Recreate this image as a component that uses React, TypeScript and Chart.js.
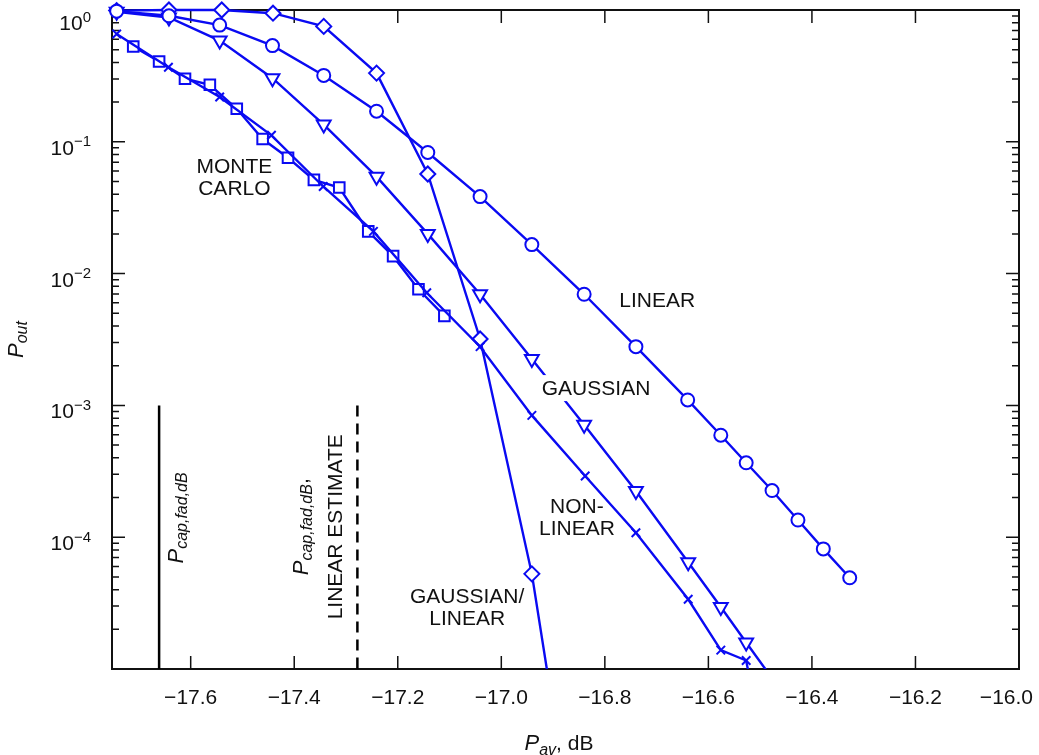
import React, { useEffect, useRef } from 'react';
import { Chart, registerables } from 'chart.js';

Chart.register(...registerables);

// ---------- data ----------
const xTickValues = [-17.6, -17.4, -17.2, -17.0, -16.8, -16.6, -16.4, -16.2, -16.0];
const yLabelExponents = [0, -1, -2, -3, -4];

// LINEAR (circles)
const xLinear = [-17.743, -17.642, -17.544, -17.442, -17.343, -17.241, -17.142, -17.041, -16.941, -16.84, -16.74, -16.64, -16.576, -16.527, -16.477, -16.427, -16.378, -16.327];
const yLinear = [0.98, 0.904, 0.768, 0.537, 0.319, 0.1706, 0.083, 0.0384, 0.0166, 6.97e-3, 2.79e-3, 1.1e-3, 5.94e-4, 3.67e-4, 2.26e-4, 1.35e-4, 8.15e-5, 4.92e-5];

// GAUSSIAN (down triangles)
const xGaussian = [-17.743, -17.642, -17.544, -17.442, -17.343, -17.241, -17.142, -17.041, -16.941, -16.84, -16.74, -16.639, -16.576, -16.527, -16.477];
const yGaussian = [0.97, 0.878, 0.586, 0.304, 0.135, 0.0544, 0.02, 6.97e-3, 2.25e-3, 7.14e-4, 2.24e-4, 6.45e-5, 2.95e-5, 1.59e-5, 8.5e-6];

// NON-LINEAR (crosses)
const xNonLinear = [-17.743, -17.643, -17.544, -17.444, -17.344, -17.247, -17.144, -17.041, -16.941, -16.838, -16.74, -16.639, -16.576, -16.527, -16.477];
const yNonLinear = [0.657, 0.368, 0.219, 0.112, 0.0458, 0.0209, 7.16e-3, 2.79e-3, 8.4e-4, 2.91e-4, 1.08e-4, 3.38e-5, 1.39e-5, 1.16e-5, 1.1e-6];

// GAUSSIAN/LINEAR (diamonds)
const xGaussLin = [-17.743, -17.642, -17.54, -17.441, -17.343, -17.241, -17.142, -17.041, -16.941, -16.84];
const yGaussLin = [0.99, 1.0, 1.0, 0.946, 0.751, 0.332, 0.057, 3.19e-3, 5.27e-5, 1.6e-7];

// MONTE CARLO (squares)
const xMonteCarlo = [-17.711, -17.661, -17.611, -17.563, -17.511, -17.461, -17.412, -17.362, -17.313, -17.257, -17.209, -17.16, -17.11];
const yMonteCarlo = [0.528, 0.407, 0.301, 0.271, 0.178, 0.105, 0.0757, 0.0514, 0.045, 0.0209, 0.01356, 7.6e-3, 4.78e-3];

// vertical markers
const xCapFad = [-17.661, -17.661];
const yCapFad = [1e-3, 1e-5];
const xCapFadLinear = [-17.278, -17.278];
const yCapFadLinear = [1e-3, 1e-5];

// ---------- style ----------
const FONT = '"Liberation Sans", Arial, Helvetica, sans-serif';
const fnt = (size: number, italic = false) => `${italic ? 'italic ' : ''}${size}px ${FONT}`;
const BLUE = '#0a0af2';
const INK = '#111';

type Seg = { t: string; f: string; dy: number };
const main = (t: string, italic = false): Seg => ({ t, f: fnt(italic ? 22 : 21, italic), dy: 0 });
const sub = (t: string): Seg => ({ t, f: fnt(16, true), dy: 4 });

const notes = [
  { lines: ['MONTE', 'CARLO'], x: -17.5156, y: 0.053, knockout: false },
  { lines: ['LINEAR'], x: -16.699, y: 6.15e-3, knockout: false },
  { lines: ['GAUSSIAN'], x: -16.817, y: 1.33e-3, knockout: true },
  { lines: ['NON-', 'LINEAR'], x: -16.854, y: 1.39e-4, knockout: false },
  { lines: ['GAUSSIAN/', 'LINEAR'], x: -17.066, y: 2.9e-5, knockout: false },
];

const rotNotes: { segs: Seg[]; x: number; y: number }[] = [
  { segs: [main('P', true), sub('cap,fad,dB')], x: -17.615, y: 1.4e-4 },
  { segs: [main('P', true), sub('cap,fad,dB'), main(',')], x: -17.3735, y: 1.2e-4 },
  { segs: [main('LINEAR ESTIMATE')], x: -17.3084, y: 1.2e-4 },
];

function richWidth(ctx: CanvasRenderingContext2D, segs: Seg[]) {
  let w = 0;
  for (const s of segs) {
    ctx.font = s.f;
    w += ctx.measureText(s.t).width;
  }
  return w;
}

function drawRich(ctx: CanvasRenderingContext2D, segs: Seg[], x: number, y: number, align: 'center' | 'left' | 'right') {
  const w = richWidth(ctx, segs);
  let cx = align === 'center' ? x - w / 2 : align === 'right' ? x - w : x;
  ctx.textAlign = 'left';
  for (const s of segs) {
    ctx.font = s.f;
    ctx.fillText(s.t, cx, y + s.dy);
    cx += ctx.measureText(s.t).width;
  }
}

const minus = (s: string) => s.replace('-', '\u2212');

const framePlugin = {
  id: 'framePlugin',
  beforeDatasetsDraw(chart: any) {
    const { ctx, chartArea: a, scales } = chart;
    const xs = scales.x;
    const ys = scales.y;
    ctx.save();
    ctx.strokeStyle = INK;
    ctx.lineWidth = 1.5;
    ctx.beginPath();
    for (const v of xTickValues) {
      const px = xs.getPixelForValue(v);
      ctx.moveTo(px, a.bottom);
      ctx.lineTo(px, a.bottom - 13);
      ctx.moveTo(px, a.top);
      ctx.lineTo(px, a.top + 13);
    }
    const eMin = Math.round(Math.log10(ys.min));
    const eMax = Math.round(Math.log10(ys.max));
    for (let e = eMin; e < eMax; e++) {
      for (let m = 1; m < 10; m++) {
        const py = ys.getPixelForValue(m * Math.pow(10, e));
        const len = m === 1 ? 13 : 7;
        ctx.moveTo(a.left, py);
        ctx.lineTo(a.left + len, py);
        ctx.moveTo(a.right, py);
        ctx.lineTo(a.right - len, py);
      }
    }
    ctx.stroke();
    ctx.lineWidth = 2;
    ctx.strokeRect(a.left, a.top, a.right - a.left, a.bottom - a.top);
    ctx.restore();
  },
  afterDatasetsDraw(chart: any) {
    const { ctx, chartArea: a, scales, width } = chart;
    const xs = scales.x;
    const ys = scales.y;
    ctx.save();
    ctx.fillStyle = INK;
    ctx.textBaseline = 'alphabetic';

    // x tick labels
    ctx.font = fnt(21);
    for (const v of xTickValues) {
      const label = minus(v.toFixed(1));
      const w = ctx.measureText(label).width;
      let cx = xs.getPixelForValue(v);
      cx = Math.min(cx, width - 6 - w / 2);
      ctx.textAlign = 'center';
      ctx.fillText(label, cx, a.bottom + 35);
    }

    // y tick labels (10^n)
    for (const e of yLabelExponents) {
      const py = ys.getPixelForValue(Math.pow(10, e));
      const base = Math.max(py + 13, a.top + 20);
      const expStr = e === 0 ? '0' : '\u2212' + Math.abs(e);
      drawRich(ctx, [
        { t: '10', f: fnt(21), dy: 0 },
        { t: expStr, f: fnt(15), dy: -8.4 },
      ], a.left - 21, base, 'right');
    }

    // axis titles
    drawRich(ctx, [main('P', true), { t: 'av', f: fnt(16, true), dy: 5 }, main(', dB')],
      (a.left + a.right) / 2 - 6.5, a.bottom + 81, 'center');
    ctx.save();
    ctx.translate(a.left - 89, (a.top + a.bottom) / 2);
    ctx.rotate(-Math.PI / 2);
    drawRich(ctx, [main('P', true), sub('out')], 0, 0, 'center');
    ctx.restore();

    // curve notes
    ctx.textBaseline = 'middle';
    for (const n of notes) {
      const cx = xs.getPixelForValue(n.x);
      const cy = ys.getPixelForValue(n.y);
      const lh = 22;
      ctx.font = fnt(21);
      const top = cy - ((n.lines.length - 1) * lh) / 2;
      if (n.knockout) {
        const w = Math.max(...n.lines.map((l) => ctx.measureText(l).width));
        ctx.fillStyle = '#fff';
        ctx.fillRect(cx - w / 2 - 3, top - 13 - 1, w + 6, n.lines.length * lh + 4);
        ctx.fillStyle = INK;
      }
      n.lines.forEach((l, i) => {
        ctx.textAlign = 'center';
        ctx.fillText(l, cx, top + i * lh);
      });
    }

    // rotated notes
    ctx.textBaseline = 'alphabetic';
    for (const r of rotNotes) {
      ctx.save();
      ctx.translate(xs.getPixelForValue(r.x), ys.getPixelForValue(r.y));
      ctx.rotate(-Math.PI / 2);
      drawRich(ctx, r.segs, 0, 0, 'center');
      ctx.restore();
    }
    ctx.restore();
  },
};

const pts = (xs: number[], ys: number[]) => xs.map((x, i) => ({ x, y: ys[i] }));
const CLIP = { left: 10, top: 10, right: 0, bottom: 0 };

function curve(label: string, xs: number[], ys: number[], style: string, radius: number, rotation = 0) {
  return {
    label,
    data: pts(xs, ys),
    borderColor: BLUE,
    borderWidth: 2.4,
    pointStyle: style,
    pointRadius: radius,
    pointBorderColor: BLUE,
    pointBackgroundColor: '#ffffff',
    pointBorderWidth: 2,
    pointRotation: rotation,
    tension: 0,
    clip: CLIP,
  };
}

export default function App() {
  const ref = useRef<HTMLCanvasElement>(null);
  useEffect(() => {
    if (!ref.current) return;
    const chart = new Chart(ref.current, {
      type: 'line',
      data: {
        datasets: [
          curve('LINEAR', xLinear, yLinear, 'circle', 6.5),
          curve('GAUSSIAN', xGaussian, yGaussian, 'triangle', 8, 180),
          curve('NON-LINEAR', xNonLinear, yNonLinear, 'crossRot', 6),
          curve('GAUSSIAN/LINEAR', xGaussLin, yGaussLin, 'rectRot', 7.5),
          curve('MONTE CARLO', xMonteCarlo, yMonteCarlo, 'rect', 7.5),
          {
            label: 'Pcap',
            data: pts(xCapFad, yCapFad),
            borderColor: '#000',
            borderWidth: 2.5,
            pointRadius: 0,
            clip: 0,
          } as any,
          {
            label: 'Pcap linear',
            data: pts(xCapFadLinear, yCapFadLinear),
            borderColor: '#000',
            borderWidth: 2.5,
            borderDash: [11, 7],
            pointRadius: 0,
            clip: 0,
          } as any,
        ],
      },
      options: {
        responsive: false,
        animation: false,
        events: [],
        layout: { padding: { left: 112, right: 20, top: 7, bottom: 86 } },
        plugins: { legend: { display: false }, tooltip: { enabled: false } },
        scales: {
          x: { type: 'linear', min: -17.752, max: -16.0, display: false },
          y: { type: 'logarithmic', min: 1e-5, max: 1, display: false },
        },
      } as any,
      plugins: [framePlugin as any],
    });
    return () => chart.destroy();
  }, []);
  return (
    <div style={{ position: 'fixed', left: 0, top: 0, width: 1039, height: 755, background: '#fff' }}>
      <canvas ref={ref} width={1039} height={755} style={{ display: 'block' }} />
    </div>
  );
}
